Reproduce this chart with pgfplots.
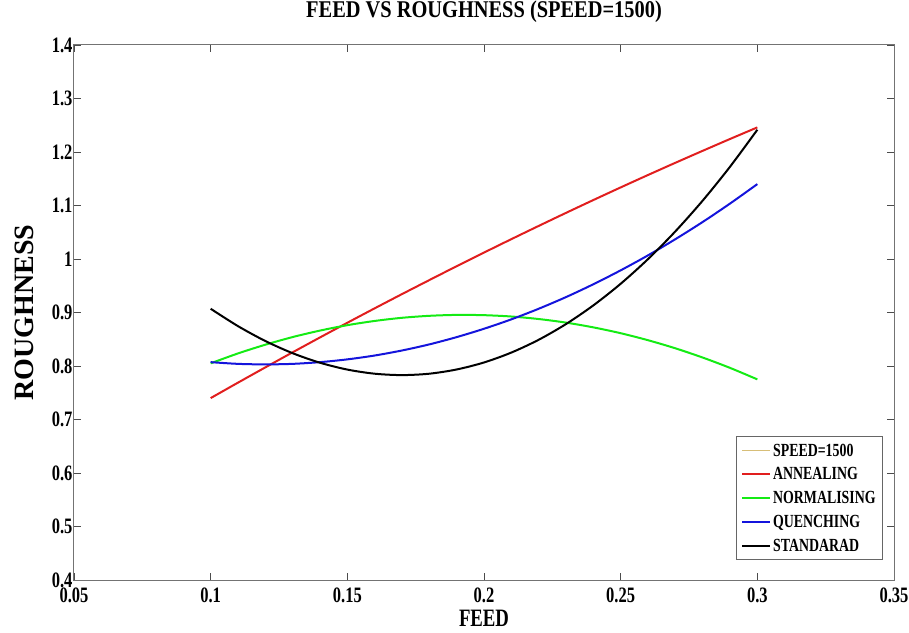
\documentclass[border=0pt]{standalone}
\usepackage{fontspec}
\setmainfont{Liberation Serif}[FakeStretch=0.75]
\newfontfamily\titlefont{Liberation Serif}[FakeStretch=0.85]
\newfontfamily\ylabfont{Liberation Serif}
\usepackage{pgfplots}
\pgfplotsset{compat=1.18}
\usetikzlibrary{calc}

\definecolor{annred}{RGB}{225,30,30}
\definecolor{normgreen}{RGB}{20,235,20}
\definecolor{quenblue}{RGB}{20,20,220}
\definecolor{speedtan}{RGB}{215,190,120}

\begin{document}
\begin{tikzpicture}
\begin{axis}[
    name=ax,
    scale only axis,
    width=820pt, height=535pt,
    xmin=0.05, xmax=0.35, ymin=0.4, ymax=1.4,
    xtick={0.05,0.1,0.15,0.2,0.25,0.3,0.35},
    xticklabels={0.05,0.1,0.15,0.2,0.25,0.3,0.35},
    ytick={0.4,0.5,0.6,0.7,0.8,0.9,1,1.1,1.2,1.3,1.4},
    yticklabels={0.4,0.5,0.6,0.7,0.8,0.9,1,1.1,1.2,1.3,1.4},
    tick align=inside,
    major tick length=7pt,
    axis line style={black!55, line width=1pt},
    tick style={black!70, line width=0.6pt},
    ticklabel style={font=\fontsize{22}{22}\selectfont\bfseries},
    yticklabel style={xshift=2pt},
    xticklabel style={yshift=-4pt},
    title={FEED VS ROUGHNESS (SPEED=1500)},
    title style={font=\titlefont\fontsize{24}{24}\selectfont\bfseries, at={(axis description cs:0.5,1)}, yshift=27pt, anchor=center},
    xlabel={FEED},
    xlabel style={font=\fontsize{25}{25}\selectfont\bfseries, at={(axis description cs:0.5,0)}, yshift=-46pt, anchor=base, inner sep=0pt},
    ylabel={ROUGHNESS},
    ylabel style={font=\ylabfont\fontsize{28}{28}\selectfont\bfseries, at={(axis description cs:-0.06,0.5)}, anchor=center},
    legend style={at={(rel axis cs:1,0)}, anchor=south east, xshift=-11pt, yshift=20pt,
        font=\fontsize{18.5}{18.5}\selectfont\bfseries, draw=black!60, row sep=6pt,
        inner sep=5pt, line width=0.8pt},
    legend cell align=left,
    legend image code/.code={\draw[#1] (0pt,0pt) -- (28pt,0pt);},
]
\addlegendimage{speedtan, line width=0.8pt}
\addlegendentry{SPEED=1500}

\addplot[annred, smooth, line width=2pt] coordinates {
(0.10,0.7400) (0.11,0.7689) (0.12,0.7974) (0.13,0.8256) (0.14,0.8534)
(0.15,0.8808) (0.16,0.9078) (0.17,0.9344) (0.18,0.9606) (0.19,0.9865)
(0.20,1.0120) (0.21,1.0371) (0.22,1.0618) (0.23,1.0862) (0.24,1.1102)
(0.25,1.1338) (0.26,1.1570) (0.27,1.1798) (0.28,1.2022) (0.29,1.2243)
(0.30,1.2460)};
\addlegendentry{ANNEALING}

\addplot[normgreen, smooth, line width=2pt] coordinates {
(0.10,0.8050) (0.11,0.8235) (0.12,0.8398) (0.13,0.8541) (0.14,0.8662)
(0.15,0.8763) (0.16,0.8842) (0.17,0.8901) (0.18,0.8938) (0.19,0.8955)
(0.20,0.8950) (0.21,0.8925) (0.22,0.8878) (0.23,0.8811) (0.24,0.8722)
(0.25,0.8613) (0.26,0.8482) (0.27,0.8331) (0.28,0.8158) (0.29,0.7965)
(0.30,0.7750)};
\addlegendentry{NORMALISING}

\addplot[quenblue, smooth, line width=2pt] coordinates {
(0.10,0.8072) (0.11,0.8040) (0.12,0.8030) (0.13,0.8040) (0.14,0.8072)
(0.15,0.8124) (0.16,0.8196) (0.17,0.8290) (0.18,0.8404) (0.19,0.8540)
(0.20,0.8696) (0.21,0.8872) (0.22,0.9070) (0.23,0.9288) (0.24,0.9528)
(0.25,0.9788) (0.26,1.0068) (0.27,1.0370) (0.28,1.0692) (0.29,1.1036)
(0.30,1.1400)};
\addlegendentry{QUENCHING}

\addplot[black, smooth, line width=2pt] coordinates {
(0.10,0.9070) (0.11,0.8745) (0.12,0.8467) (0.13,0.8239) (0.14,0.8061)
(0.15,0.7933) (0.16,0.7856) (0.17,0.7830) (0.18,0.7856) (0.19,0.7935)
(0.20,0.8066) (0.21,0.8251) (0.22,0.8490) (0.23,0.8784) (0.24,0.9133)
(0.25,0.9537) (0.26,0.9998) (0.27,1.0516) (0.28,1.1091) (0.29,1.1724)
(0.30,1.2416)};
\addlegendentry{STANDARAD}
\end{axis}
\pgfresetboundingbox
\path ($(ax.south west)+(-74pt,-52pt)$) rectangle ($(ax.north east)+(15pt,45pt)$);
\end{tikzpicture}
\end{document}
